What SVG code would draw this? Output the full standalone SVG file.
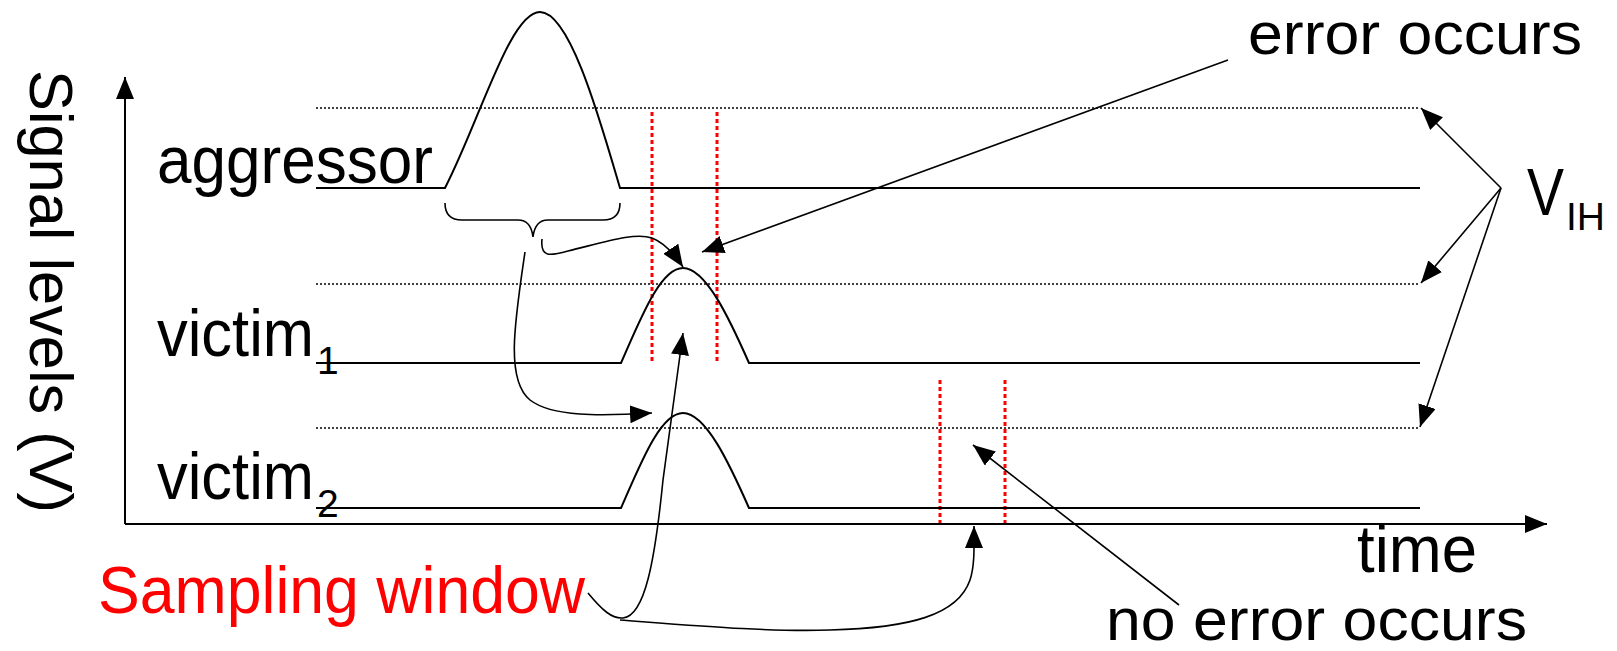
<svg xmlns="http://www.w3.org/2000/svg" width="1617" height="651" viewBox="0 0 1617 651">
  <style>
    text { font-family: "Liberation Sans", Arial, sans-serif; fill: #000; }
    .lbl { font-size: 66px; }
    .note { font-size: 60px; }
    .axl { font-size: 62px; }
    .sub { font-size: 39px; }
    .red { fill: #ff0000; }
    .sig { fill: none; stroke: #000; stroke-width: 2; }
    .vih { fill: none; stroke: #000; stroke-width: 1.3; stroke-dasharray: 2 2; }
    .win { fill: none; stroke: #ff0000; stroke-width: 3; stroke-dasharray: 4 3; }
    .axis { fill: none; stroke: #000; stroke-width: 2; marker-end: url(#head); }
    .con { fill: none; stroke: #000; stroke-width: 1.6; marker-end: url(#head); }
    .brace { fill: none; stroke: #000; stroke-width: 1.6; }
  </style>
  <defs>
    <marker id="head" viewBox="0 0 22 18" markerWidth="22" markerHeight="18" refX="22" refY="9" orient="auto" markerUnits="userSpaceOnUse">
      <path d="M0,0 L22,9 L0,18 z" fill="#000"/>
    </marker>
  </defs>

  <rect width="1617" height="651" fill="#fff"/>

  <!-- axes -->
  <g id="axes">
    <path class="axis" d="M125,524 V77"/>
    <path class="axis" d="M125,524 H1547"/>
    <text class="axl" transform="translate(30,70) rotate(90)" textLength="443" lengthAdjust="spacingAndGlyphs">Signal levels (V)</text>
    <text class="lbl" x="1357" y="572" textLength="120" lengthAdjust="spacingAndGlyphs">time</text>
  </g>

  <!-- V_IH threshold levels -->
  <g id="thresholds">
    <path class="vih" d="M316,108 H1420"/>
    <path class="vih" d="M316,284 H1420"/>
    <path class="vih" d="M316,428 H1420"/>
  </g>

  <!-- sampling windows -->
  <g id="windows">
    <path class="win" d="M652,112 V363"/>
    <path class="win" d="M717,112 V363"/>
    <path class="win" d="M940,380 V523"/>
    <path class="win" d="M1005,380 V523"/>
  </g>

  <!-- aggressor waveform -->
  <g id="aggressor">
    <path class="sig" d="M316,188 H445 C480,120 510,12 540,12 C570,12 600,120 620,188 H1420"/>
    <text class="lbl" x="157" y="183" textLength="276" lengthAdjust="spacingAndGlyphs">aggressor</text>
  </g>

  <!-- victim 1 waveform -->
  <g id="victim1">
    <path class="sig" d="M316,363 H621 C640,320 660,268 683,268 C706,268 730,320 749,363 H1420"/>
    <text class="lbl" x="157" y="356"><tspan textLength="157" lengthAdjust="spacingAndGlyphs">victim</tspan><tspan class="sub" x="317" y="374">1</tspan></text>
  </g>

  <!-- victim 2 waveform -->
  <g id="victim2">
    <path class="sig" d="M316,508 H621 C640,465 660,413 683,413 C706,413 730,465 749,508 H1420"/>
    <text class="lbl" x="157" y="499"><tspan textLength="157" lengthAdjust="spacingAndGlyphs">victim</tspan><tspan class="sub" x="317" y="517">2</tspan></text>
  </g>

  <!-- pulse-width brace -->
  <g id="brace">
    <path class="brace" d="M445,203 Q445,220 462,220 H518 Q531,220 533,237 Q535,220 548,220 H603 Q620,220 620,203"/>
  </g>

  <!-- labels -->
  <g id="error-label">
    <text class="note" x="1248" y="54" textLength="334" lengthAdjust="spacingAndGlyphs">error occurs</text>
  </g>
  <g id="no-error-label">
    <text class="note" x="1106" y="640" textLength="421" lengthAdjust="spacingAndGlyphs">no error occurs</text>
  </g>
  <g id="vih-label">
    <text class="lbl" x="1527" y="215"><tspan textLength="37" lengthAdjust="spacingAndGlyphs">V</tspan><tspan class="sub" x="1566" y="230">IH</tspan></text>
  </g>
  <g id="sampling-label">
    <text class="lbl red" x="98" y="613" textLength="487" lengthAdjust="spacingAndGlyphs">Sampling window</text>
  </g>

  <!-- connectors -->
  <g id="connectors">
    <path class="con" d="M542,239 C540,258 550,256 568,251 C605,242 635,232 652,238 C665,243 675,255 683,267"/>
    <path class="con" d="M525,252 C515,320 505,380 530,400 C552,417 600,416 652,413"/>
    <path class="con" d="M1228,60 L702,252"/>
    <path class="con" d="M1179,605 L973,445"/>
    <path class="con" d="M1501,188 L1421,108"/>
    <path class="con" d="M1501,188 L1421,283"/>
    <path class="con" d="M1501,188 L1420,427"/>
    <path class="con" d="M588,593 C602,610 612,619 623,618 C645,616 655,560 663,480 L683,333"/>
    <path class="con" d="M620,620 C700,626 770,632 830,630 C910,628 958,615 970,580 C975,565 974,545 974,526"/>
  </g>
</svg>
